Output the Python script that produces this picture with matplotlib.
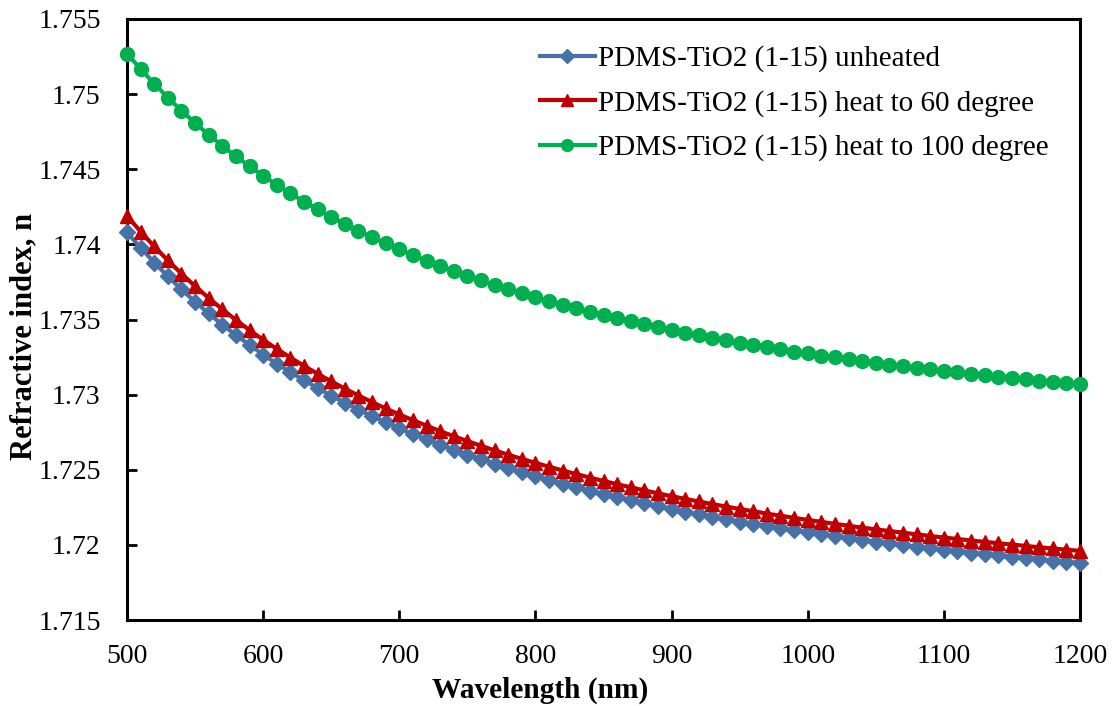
import matplotlib
matplotlib.use("Agg")
import matplotlib.pyplot as plt
from matplotlib.ticker import MultipleLocator, FormatStrFormatter

wavelength = list(range(500, 1201, 10))

unheated = [
    1.74080, 1.73977, 1.73879, 1.73787, 1.73700, 1.73618, 1.73540, 1.73466, 1.73396, 1.73330,
    1.73267, 1.73206, 1.73149, 1.73095, 1.73043, 1.72993, 1.72946, 1.72901, 1.72857, 1.72816,
    1.72776, 1.72738, 1.72702, 1.72667, 1.72633, 1.72601, 1.72570, 1.72540, 1.72512, 1.72484,
    1.72458, 1.72432, 1.72408, 1.72384, 1.72361, 1.72339, 1.72318, 1.72297, 1.72277, 1.72258,
    1.72240, 1.72222, 1.72204, 1.72188, 1.72171, 1.72155, 1.72140, 1.72125, 1.72111, 1.72097,
    1.72084, 1.72070, 1.72058, 1.72045, 1.72033, 1.72022, 1.72010, 1.71999, 1.71989, 1.71978,
    1.71968, 1.71958, 1.71949, 1.71939, 1.71930, 1.71921, 1.71913, 1.71904, 1.71896, 1.71888,
    1.71880,
]

heat_60 = [
    1.74190, 1.74085, 1.73986, 1.73893, 1.73805, 1.73722, 1.73643, 1.73568, 1.73497, 1.73429,
    1.73365, 1.73304, 1.73247, 1.73191, 1.73139, 1.73088, 1.73040, 1.72994, 1.72950, 1.72908,
    1.72868, 1.72830, 1.72793, 1.72757, 1.72723, 1.72691, 1.72659, 1.72629, 1.72600, 1.72572,
    1.72546, 1.72520, 1.72495, 1.72471, 1.72448, 1.72425, 1.72404, 1.72383, 1.72363, 1.72343,
    1.72324, 1.72306, 1.72289, 1.72271, 1.72255, 1.72239, 1.72224, 1.72208, 1.72194, 1.72180,
    1.72166, 1.72153, 1.72140, 1.72127, 1.72115, 1.72103, 1.72092, 1.72081, 1.72070, 1.72059,
    1.72049, 1.72039, 1.72029, 1.72020, 1.72011, 1.72002, 1.71993, 1.71984, 1.71976, 1.71968,
    1.71960,
]

heat_100 = [
    1.75270, 1.75167, 1.75069, 1.74977, 1.74890, 1.74808, 1.74730, 1.74656, 1.74586, 1.74520,
    1.74457, 1.74396, 1.74339, 1.74285, 1.74233, 1.74183, 1.74136, 1.74091, 1.74047, 1.74006,
    1.73966, 1.73928, 1.73892, 1.73857, 1.73823, 1.73791, 1.73760, 1.73730, 1.73702, 1.73674,
    1.73648, 1.73622, 1.73598, 1.73574, 1.73551, 1.73529, 1.73508, 1.73487, 1.73467, 1.73448,
    1.73430, 1.73412, 1.73394, 1.73378, 1.73361, 1.73345, 1.73330, 1.73315, 1.73301, 1.73287,
    1.73274, 1.73260, 1.73248, 1.73235, 1.73223, 1.73212, 1.73200, 1.73189, 1.73179, 1.73168,
    1.73158, 1.73148, 1.73139, 1.73129, 1.73120, 1.73111, 1.73103, 1.73094, 1.73086, 1.73078,
    1.73070,
]

labels = [
    "PDMS-TiO2 (1-15) unheated",
    "PDMS-TiO2 (1-15) heat to 60 degree",
    "PDMS-TiO2 (1-15) heat to 100 degree",
]

plt.rcParams["font.family"] = ["Liberation Serif", "DejaVu Serif"]

fig = plt.figure(figsize=(11.2, 7.06), dpi=100)
ax = fig.add_axes([0.1134, 0.1218, 0.8509, 0.8513])

ax.plot(wavelength, unheated, color="#4672A8", marker="D", markersize=8,
        linewidth=3, label=labels[0], clip_on=False, zorder=3)
ax.plot(wavelength, heat_60, color="#C00000", marker="^", markersize=10,
        linewidth=3, label=labels[1], clip_on=False, zorder=3)
ax.plot(wavelength, heat_100, color="#00B050", marker="o", markersize=10,
        linewidth=3, label=labels[2], clip_on=False, zorder=3)

ax.set_xlim(500, 1200)
ax.set_ylim(1.715, 1.755)
ax.xaxis.set_major_locator(MultipleLocator(100))
ax.yaxis.set_major_locator(MultipleLocator(0.005))
ax.yaxis.set_major_formatter(FormatStrFormatter("%g"))

ax.tick_params(direction="in", length=7, width=2, labelsize=20)
ax.tick_params(axis="x", pad=17)
ax.tick_params(axis="y", pad=19)
for s in ax.spines.values():
    s.set_linewidth(2.2)

# labels sit a bit off-centre in the original
ax.set_xlabel("Wavelength (nm)", fontsize=21.2, fontweight="bold", labelpad=6)
ax.set_ylabel("Refractive index, n", fontsize=22, fontweight="bold", labelpad=0)
ax.xaxis.label.set_x(0.434)
ax.yaxis.label.set_y(0.471)

leg = ax.legend(loc="upper left", bbox_to_anchor=(0.433, 0.956), frameon=False,
                fontsize=21, handlelength=1.9, handletextpad=0.1,
                labelspacing=0.6, borderpad=0, borderaxespad=0,
                markerscale=0.85)

fig.savefig("out.png", dpi=100)
